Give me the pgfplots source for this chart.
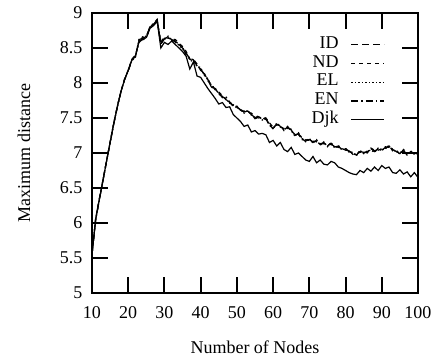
\documentclass[border=0pt]{standalone}
\usepackage{fontspec}
\setmainfont{Liberation Serif}
\usepackage{pgfplots}
\usepackage{pgfplotstable}
\pgfplotsset{compat=1.18}
\pgfplotstableread{
n ID ND EL EN Djk
10 5.55 5.55 5.55 5.55 5.55
11 6.05 6.06 6.05 6.04 6.05
12 6.33 6.34 6.33 6.32 6.33
13 6.60 6.61 6.60 6.60 6.60
14 6.88 6.88 6.87 6.88 6.88
15 7.15 7.16 7.15 7.14 7.15
16 7.42 7.42 7.43 7.41 7.42
17 7.66 7.67 7.66 7.66 7.66
18 7.88 7.88 7.89 7.87 7.88
19 8.05 8.06 8.04 8.05 8.05
20 8.18 8.18 8.19 8.17 8.18
21 8.33 8.34 8.32 8.33 8.33
22 8.38 8.40 8.37 8.39 8.38
23 8.62 8.60 8.63 8.58 8.60
24 8.64 8.66 8.60 8.63 8.62
25 8.66 8.64 8.68 8.65 8.65
26 8.80 8.79 8.78 8.81 8.78
27 8.84 8.86 8.83 8.85 8.82
28 8.90 8.88 8.89 8.91 8.88
29 8.56 8.58 8.60 8.55 8.50
30 8.63 8.66 8.62 8.64 8.58
31 8.66 8.64 8.67 8.65 8.55
32 8.62 8.63 8.60 8.61 8.60
33 8.60 8.62 8.58 8.59 8.55
34 8.55 8.57 8.54 8.56 8.50
35 8.50 8.52 8.49 8.51 8.45
36 8.42 8.45 8.43 8.40 8.38
37 8.35 8.34 8.33 8.36 8.20
38 8.32 8.34 8.30 8.33 8.30
39 8.25 8.27 8.24 8.26 8.10
40 8.20 8.18 8.22 8.19 8.08
41 8.12 8.14 8.11 8.13 8.00
42 8.05 8.03 8.06 8.04 7.92
43 7.95 7.98 7.96 7.94 7.85
44 7.92 7.90 7.93 7.91 7.78
45 7.85 7.87 7.84 7.86 7.70
46 7.80 7.82 7.81 7.79 7.72
47 7.78 7.76 7.77 7.80 7.65
48 7.72 7.74 7.71 7.73 7.66
49 7.68 7.66 7.69 7.67 7.55
50 7.65 7.67 7.64 7.66 7.50
51 7.62 7.60 7.63 7.61 7.45
52 7.58 7.60 7.57 7.59 7.38
53 7.60 7.58 7.61 7.59 7.40
54 7.55 7.57 7.54 7.56 7.30
55 7.50 7.52 7.51 7.49 7.32
56 7.52 7.50 7.53 7.51 7.27
57 7.48 7.50 7.47 7.49 7.28
58 7.50 7.48 7.51 7.49 7.26
59 7.40 7.43 7.41 7.39 7.15
60 7.35 7.37 7.34 7.36 7.18
61 7.42 7.40 7.43 7.41 7.10
62 7.38 7.40 7.37 7.39 7.15
63 7.34 7.32 7.35 7.33 7.05
64 7.36 7.38 7.35 7.37 7.02
65 7.33 7.31 7.34 7.32 7.08
66 7.25 7.27 7.24 7.26 6.98
67 7.28 7.26 7.29 7.27 7.00
68 7.20 7.22 7.21 7.19 6.95
69 7.17 7.19 7.16 7.18 6.90
70 7.20 7.18 7.21 7.19 6.88
71 7.15 7.17 7.14 7.16 6.95
72 7.18 7.16 7.19 7.17 6.86
73 7.12 7.14 7.11 7.13 6.90
74 7.15 7.13 7.16 7.14 6.84
75 7.10 7.12 7.09 7.11 6.83
76 7.14 7.12 7.15 7.13 6.88
77 7.08 7.10 7.07 7.09 6.86
78 7.10 7.08 7.11 7.09 6.80
79 7.05 7.07 7.04 7.06 6.78
80 7.06 7.04 7.07 7.05 6.75
81 7.02 7.04 7.01 7.03 6.72
82 7.00 6.98 7.01 6.99 6.70
83 6.97 6.99 6.96 6.98 6.69
84 7.03 7.01 7.04 7.02 6.75
85 7.00 7.02 6.99 7.01 6.72
86 7.02 7.00 7.03 7.01 6.78
87 7.05 7.07 7.04 7.06 6.74
88 7.02 7.04 7.01 7.03 6.80
89 7.06 7.04 7.07 7.05 6.75
90 7.04 7.06 7.03 7.05 6.82
91 7.08 7.06 7.09 7.07 6.78
92 7.09 7.11 7.08 7.10 6.80
93 7.05 7.03 7.06 7.04 6.72
94 7.02 7.04 7.01 7.03 6.71
95 7.00 6.98 7.01 6.99 6.76
96 7.03 7.05 7.02 7.04 6.70
97 6.98 7.00 6.97 6.99 6.73
98 7.02 7.00 7.03 7.01 6.66
99 6.99 7.01 6.98 7.00 6.72
100 7.00 6.98 7.01 6.99 6.65
}\datatable
\begin{document}
\begin{tikzpicture}
\path[use as bounding box] (-92pt,-65pt) rectangle (346pt,293pt);
\begin{axis}[
  scale only axis, width=326pt, height=280pt,
  at={(0pt,0pt)}, anchor=south west,
  xmin=10, xmax=100, ymin=5, ymax=9,
  xtick={10,20,...,100}, ytick={5,5.5,...,9},
  tick align=inside, major tick length=16pt,
  axis line style={line width=2.8pt},
  tick style={line width=2pt, black},
  font=\fontsize{18}{18}\selectfont,
  /pgf/number format/assume math mode=true,
  xticklabel={\textrm{\pgfmathprintnumber[assume math mode=true]{\tick}}},
  yticklabel={\textrm{\pgfmathprintnumber[assume math mode=true]{\tick}}},
  xticklabel style={yshift=-10pt},
  yticklabel style={xshift=-6pt},
  xlabel={Number of Nodes},
  ylabel={Maximum distance},
  xlabel style={at={(axis description cs:0.5,-0.193)}, anchor=center},
  ylabel style={at={(axis description cs:-0.209,0.5)}, anchor=center},
  legend cell align=right,
  legend plot pos=right,
  legend image code/.code={\draw[#1] (0pt,0pt) -- (33pt,0pt);},
  legend style={draw=none, fill=none, inner sep=0pt, column sep=12pt,
    at={(0.899,0.921)}, anchor=north east,
    nodes={inner sep=0pt, text height=13pt, text depth=5.75pt}},
  every axis plot/.append style={line width=1.2pt, black},
]
\addplot[dash pattern=on 7pt off 4pt] table[x=n, y=ID] {\datatable};
\addlegendentry{ID}
\addplot[dash pattern=on 4pt off 4pt] table[x=n, y=ND] {\datatable};
\addlegendentry{ND}
\addplot[dash pattern=on 1.5pt off 2pt] table[x=n, y=EL] {\datatable};
\addlegendentry{EL}
\addplot[dash pattern=on 7pt off 3pt on 1.5pt off 3pt] table[x=n, y=EN] {\datatable};
\addlegendentry{EN}
\addplot[solid] table[x=n, y=Djk] {\datatable};
\addlegendentry{Djk}
\end{axis}
\end{tikzpicture}
\end{document}
